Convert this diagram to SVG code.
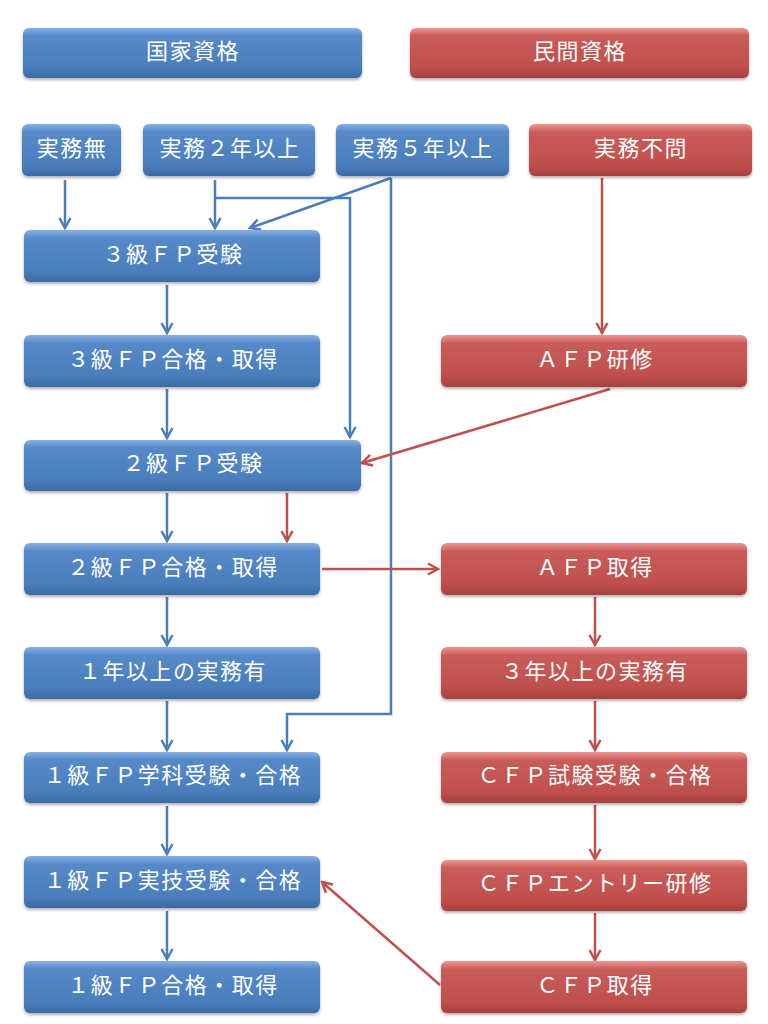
<svg xmlns="http://www.w3.org/2000/svg" width="768" height="1024" viewBox="0 0 768 1024">
<defs>
<linearGradient id="gb" x1="0" y1="0" x2="0" y2="1">
<stop offset="0" stop-color="#86B0E4"/>
<stop offset="0.16" stop-color="#5689C8"/>
<stop offset="0.8" stop-color="#4A7DBB"/>
<stop offset="1" stop-color="#3C6AA4"/>
</linearGradient>
<linearGradient id="gr" x1="0" y1="0" x2="0" y2="1">
<stop offset="0" stop-color="#F09490"/>
<stop offset="0.16" stop-color="#C95C59"/>
<stop offset="0.8" stop-color="#BF4F4C"/>
<stop offset="1" stop-color="#A5403D"/>
</linearGradient>
<filter id="sh" x="-10%" y="-20%" width="120%" height="150%">
<feDropShadow dx="0" dy="2" stdDeviation="1.5" flood-color="#000" flood-opacity="0.3"/>
</filter>
<marker id="ab" viewBox="0 0 14 14" markerWidth="14" markerHeight="14" refX="12" refY="7" orient="auto" markerUnits="userSpaceOnUse">
<path d="M2,1.5 L12,7 L2,12.5" fill="none" stroke="#4A7EBB" stroke-width="2.5"/>
</marker>
<marker id="ar" viewBox="0 0 14 14" markerWidth="14" markerHeight="14" refX="12" refY="7" orient="auto" markerUnits="userSpaceOnUse">
<path d="M2,1.5 L12,7 L2,12.5" fill="none" stroke="#C0504D" stroke-width="2.5"/>
</marker>
</defs>
<style>
.b rect{fill:url(#gb);filter:url(#sh)}
.r rect{fill:url(#gr);filter:url(#sh)}
text{font-family:"Noto Sans CJK JP","Noto Sans",sans-serif;font-size:22px;fill:#fff;text-anchor:middle;letter-spacing:1.5px}
.cb{fill:none;stroke:#4A7EBB;stroke-width:2.5;marker-end:url(#ab)}
.cr{fill:none;stroke:#C0504D;stroke-width:2.5;marker-end:url(#ar)}
</style>
<rect width="768" height="1024" fill="#fff"/>

<g id="connectors">
<path class="cb" d="M65,180 V228"/>
<path class="cb" d="M215,180 V228"/>
<path class="cb" d="M215,198 H350 V437"/>
<path class="cb" d="M391,178 L250,228"/>
<path class="cb" d="M391,178 V714 H287 V750"/>
<path class="cb" d="M167,285 V333"/>
<path class="cb" d="M167,389 V438"/>
<path class="cb" d="M167,493 V541"/>
<path class="cb" d="M167,597 V645"/>
<path class="cb" d="M167,701 V750"/>
<path class="cb" d="M167,806 V854"/>
<path class="cb" d="M167,911 V959"/>
<path class="cr" d="M602,178 V333"/>
<path class="cr" d="M610,389 L362,463"/>
<path class="cr" d="M287,493 V541"/>
<path class="cr" d="M322,569 H438"/>
<path class="cr" d="M595,597 V645"/>
<path class="cr" d="M595,701 V750"/>
<path class="cr" d="M595,805 V859"/>
<path class="cr" d="M595,913 V960"/>
<path class="cr" d="M440,985 L322,882"/>
</g>

<g id="n-kokka" class="b"><rect x="23" y="28" width="339" height="50" rx="6"/><text x="193" y="59">国家資格</text></g>
<g id="n-minkan" class="r"><rect x="410" y="28" width="339" height="50" rx="6"/><text x="580" y="59">民間資格</text></g>

<g id="n-jitsumu-nashi" class="b"><rect x="22" y="124" width="99" height="52" rx="6"/><text x="72" y="156">実務無</text></g>
<g id="n-jitsumu-2" class="b"><rect x="143" y="124" width="172" height="52" rx="6"/><text x="230" y="156">実務２年以上</text></g>
<g id="n-jitsumu-5" class="b"><rect x="336" y="124" width="173" height="52" rx="6"/><text x="423" y="156">実務５年以上</text></g>
<g id="n-jitsumu-fumon" class="r"><rect x="529" y="124" width="223" height="52" rx="6"/><text x="641" y="156">実務不問</text></g>

<g id="n-3kyu-juken" class="b"><rect x="24" y="230" width="296" height="52" rx="6"/><text x="173" y="262">３級ＦＰ受験</text></g>
<g id="n-3kyu-goukaku" class="b"><rect x="24" y="335" width="296" height="52" rx="6"/><text x="173" y="367">３級ＦＰ合格・取得</text></g>
<g id="n-afp-kenshu" class="r"><rect x="441" y="335" width="306" height="52" rx="6"/><text x="595" y="367">ＡＦＰ研修</text></g>

<g id="n-2kyu-juken" class="b"><rect x="24" y="440" width="337" height="51" rx="6"/><text x="193" y="471">２級ＦＰ受験</text></g>

<g id="n-2kyu-goukaku" class="b"><rect x="24" y="543" width="296" height="52" rx="6"/><text x="173" y="575">２級ＦＰ合格・取得</text></g>
<g id="n-afp-shutoku" class="r"><rect x="441" y="543" width="306" height="52" rx="6"/><text x="595" y="575">ＡＦＰ取得</text></g>

<g id="n-1nen" class="b"><rect x="24" y="647" width="296" height="52" rx="6"/><text x="173" y="679">１年以上の実務有</text></g>
<g id="n-3nen" class="r"><rect x="441" y="647" width="306" height="52" rx="6"/><text x="595" y="679">３年以上の実務有</text></g>

<g id="n-1kyu-gakka" class="b"><rect x="24" y="752" width="296" height="51" rx="6"/><text x="173" y="783">１級ＦＰ学科受験・合格</text></g>
<g id="n-cfp-shiken" class="r"><rect x="441" y="752" width="306" height="51" rx="6"/><text x="595" y="783">ＣＦＰ試験受験・合格</text></g>

<g id="n-1kyu-jitsugi" class="b"><rect x="24" y="856" width="296" height="52" rx="6"/><text x="173" y="888">１級ＦＰ実技受験・合格</text></g>
<g id="n-cfp-entry" class="r"><rect x="441" y="860" width="306" height="51" rx="6"/><text x="595" y="891">ＣＦＰエントリー研修</text></g>

<g id="n-1kyu-shutoku" class="b"><rect x="24" y="961" width="296" height="52" rx="6"/><text x="173" y="993">１級ＦＰ合格・取得</text></g>
<g id="n-cfp-shutoku" class="r"><rect x="441" y="961" width="306" height="52" rx="6"/><text x="595" y="993">ＣＦＰ取得</text></g>
</svg>
